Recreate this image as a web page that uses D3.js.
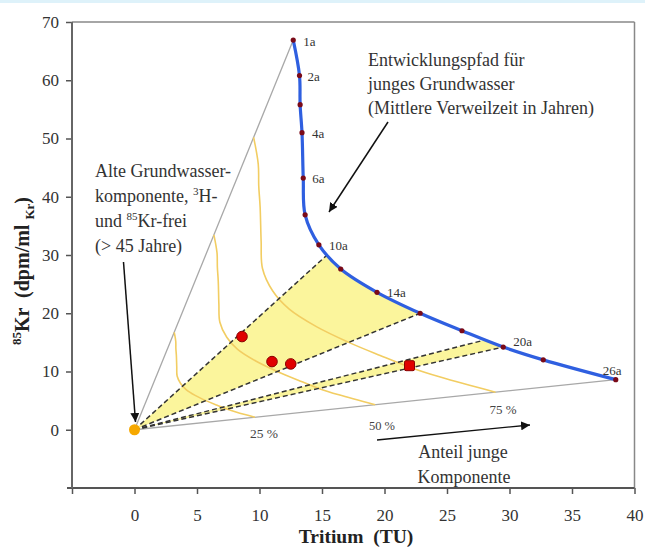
<!DOCTYPE html>
<html><head><meta charset="utf-8">
<script src="https://cdn.jsdelivr.net/npm/d3@7"></script>
<style>
body{margin:0;background:#fff}
svg{display:block}
text{font-family:"Liberation Serif","Times New Roman",serif;white-space:pre}
</style>
</head><body>
<svg id="c" width="645" height="548"></svg>
<script>
// ---- data ----
const xTicks = [-5, 0, 5, 10, 15, 20, 25, 30, 35, 40];
const yTicks = [0, 10, 20, 30, 40, 50, 60, 70];

// evolution path of young groundwater (mean residence time in years)
const pathAges     = [1, 2, 3, 4, 6, 8, 10, 12, 14, 16, 18, 20, 23, 26];
const pathLabels   = ["1a","2a","","4a","6a","","10a","","14a","","","20a","","26a"];
const pathTritium  = [12.7, 13.2, 13.25, 13.4, 13.5, 13.65, 14.75, 16.5, 19.4, 22.85, 26.2, 29.5, 32.7, 38.5];
const pathKrypton  = [66.9, 60.8, 55.8, 51.0, 43.2, 36.9, 31.75, 27.6, 23.6, 20.0, 17.0, 14.2, 12.0, 8.6];

// iso-lines of the young fraction (25 %, 50 %, 75 %)
const iso25Tritium = [3.18, 3.30, 3.31, 3.35, 3.38, 3.41, 3.69, 4.13, 4.85, 5.71, 6.55, 7.38, 8.18, 9.63];
const iso25Krypton = [16.73, 15.20, 13.95, 12.75, 10.80, 9.23, 7.94, 6.90, 5.90, 5.00, 4.25, 3.55, 3.00, 2.15];
const iso50Tritium = [6.35, 6.60, 6.63, 6.70, 6.75, 6.83, 7.38, 8.25, 9.70, 11.43, 13.10, 14.75, 16.35, 19.25];
const iso50Krypton = [33.45, 30.40, 27.90, 25.50, 21.60, 18.45, 15.88, 13.80, 11.80, 10.00, 8.50, 7.10, 6.00, 4.30];
const iso75Tritium = [9.53, 9.90, 9.94, 10.05, 10.13, 10.24, 11.06, 12.38, 14.55, 17.14, 19.65, 22.13, 24.53, 28.88];
const iso75Krypton = [50.18, 45.60, 41.85, 38.25, 32.40, 27.68, 23.81, 20.70, 17.70, 15.00, 12.75, 10.65, 9.00, 6.45];

// old component (origin)
const oldTritium = 0, oldKrypton = 0;

// mixing lines (dashed) end points on the path
const mixEndTritium = [15.35, 22.85, 28.0, 29.5];
const mixEndKrypton = [29.9, 20.0, 15.4, 14.2];

// samples
const sampleTritium = [8.6, 11.0, 12.5, 22.0];
const sampleKrypton = [16.0, 11.7, 11.3, 11.0];
const sampleShape   = ["circle", "circle", "circle", "square"];

// ---- drawing ----
const svg = d3.select("#c");
svg.append("rect").attr("width", 645).attr("height", 548).attr("fill", "#fff");
svg.append("rect").attr("width", 645).attr("height", 3).attr("fill", "#def2fa");

const x = d3.scaleLinear().domain([-5, 40]).range([72, 634.5]);
const y = d3.scaleLinear().domain([-10, 70]).range([488, 22]);

const defs = svg.append("defs");
defs.append("marker").attr("id", "ah").attr("viewBox", "0 0 10 10")
  .attr("refX", 10).attr("refY", 5).attr("markerWidth", 9).attr("markerHeight", 9)
  .attr("markerUnits", "userSpaceOnUse").attr("orient", "auto")
  .append("path").attr("d", "M0,0 L10,5 L0,10 z").attr("fill", "#111");

// frame
svg.append("line").attr("x1", x(-5)).attr("x2", x(40)).attr("y1", y(70)).attr("y2", y(70))
  .attr("stroke", "#888").attr("stroke-width", 1.5);
svg.append("line").attr("x1", x(40)).attr("x2", x(40)).attr("y1", y(70)).attr("y2", y(-10))
  .attr("stroke", "#888").attr("stroke-width", 1.5);

// axes
const fontFam = '"Liberation Serif","Times New Roman",serif';
const gx = svg.append("g").attr("transform", `translate(0,${y(-10)})`)
  .call(d3.axisBottom(x).tickValues(xTicks).tickFormat(d => d < 0 ? "" : d)
    .tickSize(6).tickPadding(15).tickSizeOuter(0));
gx.select(".domain").remove();
gx.selectAll("line").attr("stroke", "#555").attr("stroke-width", 1.5);
gx.selectAll("text").attr("font-size", 17).attr("fill", "#333").attr("font-family", fontFam);

const gy = svg.append("g").attr("transform", `translate(${x(-5)},0)`)
  .call(d3.axisLeft(y).tickValues(yTicks).tickSize(6).tickPadding(7).tickSizeOuter(0));
gy.select(".domain").remove();
gy.selectAll("line").attr("stroke", "#555").attr("stroke-width", 1.5);
gy.selectAll("text").attr("font-size", 17).attr("fill", "#333").attr("font-family", fontFam);

svg.append("line").attr("x1", 67).attr("x2", x(40)).attr("y1", y(-10)).attr("y2", y(-10))
  .attr("stroke", "#555").attr("stroke-width", 2);
svg.append("line").attr("x1", x(-5)).attr("x2", x(-5)).attr("y1", y(70)).attr("y2", y(-10))
  .attr("stroke", "#666").attr("stroke-width", 2);

// gray envelope lines
const first = 0, last = pathTritium.length - 1;
[[pathTritium[first], pathKrypton[first]], [pathTritium[last], pathKrypton[last]]].forEach(p => {
  svg.append("line").attr("x1", x(oldTritium)).attr("y1", y(oldKrypton))
    .attr("x2", x(p[0])).attr("y2", y(p[1])).attr("stroke", "#a8a8a8").attr("stroke-width", 1.3);
});

// yellow fill regions
const curveLine = d3.line().x(d => x(d[0])).y(d => y(d[1])).curve(d3.curveCatmullRom.alpha(0.5));
const pathPts = pathTritium.map((t, i) => [t, pathKrypton[i]]);
const reg1 = [[mixEndTritium[0], mixEndKrypton[0]]].concat(
  pathPts.filter(p => p[0] > mixEndTritium[0] && p[0] <= mixEndTritium[1]));
const reg1Path = curveLine(reg1) + `L${x(oldTritium)},${y(oldKrypton)}Z`;
svg.append("path").attr("d", reg1Path).attr("fill", "#fbf59c");
const reg2 = [[oldTritium, oldKrypton], [mixEndTritium[2], mixEndKrypton[2]], [mixEndTritium[3], mixEndKrypton[3]]];
svg.append("path").attr("d", d3.line().x(d => x(d[0])).y(d => y(d[1]))(reg2) + "Z").attr("fill", "#fbf59c");

// iso lines
[[iso25Tritium, iso25Krypton], [iso50Tritium, iso50Krypton], [iso75Tritium, iso75Krypton]].forEach(([ts, ks]) => {
  svg.append("path").attr("d", curveLine(ts.map((t, i) => [t, ks[i]])))
    .attr("fill", "none").attr("stroke", "#f2cd62").attr("stroke-width", 1.6);
});

// dashed mixing lines
mixEndTritium.forEach((t, i) => {
  svg.append("line").attr("x1", x(oldTritium)).attr("y1", y(oldKrypton))
    .attr("x2", x(t)).attr("y2", y(mixEndKrypton[i]))
    .attr("stroke", "#333").attr("stroke-width", 1.5).attr("stroke-dasharray", "5,3");
});

// blue evolution path
svg.append("path").attr("d", curveLine(pathPts)).attr("fill", "none")
  .attr("stroke", "#2f5fe0").attr("stroke-width", 3.2);
svg.selectAll(".pp").data(pathPts).join("circle").attr("class", "pp")
  .attr("cx", d => x(d[0])).attr("cy", d => y(d[1])).attr("r", 2.6)
  .attr("fill", "#7a0a18");

// path labels
const labelOffset = {"1a": [10, 2], "2a": [8, 1], "4a": [10, 1], "6a": [9, 1], "10a": [10, 1],
  "14a": [10, 1], "20a": [10, -5], "26a": [-13, -9]};
pathLabels.forEach((lab, i) => {
  if (!lab) return;
  const o = labelOffset[lab];
  svg.append("text").attr("x", x(pathTritium[i]) + o[0]).attr("y", y(pathKrypton[i]) + o[1] + 4)
    .attr("font-size", 13).attr("fill", "#333").text(lab);
});

// samples
sampleTritium.forEach((t, i) => {
  if (sampleShape[i] === "square") {
    svg.append("rect").attr("x", x(t) - 5).attr("y", y(sampleKrypton[i]) - 5)
      .attr("width", 10).attr("height", 10).attr("rx", 1.5)
      .attr("fill", "#e00000").attr("stroke", "#8a0000").attr("stroke-width", 1);
  } else {
    svg.append("circle").attr("cx", x(t)).attr("cy", y(sampleKrypton[i])).attr("r", 5.3)
      .attr("fill", "#e00000").attr("stroke", "#8a0000").attr("stroke-width", 1);
  }
});

// old component
svg.append("circle").attr("cx", x(oldTritium)).attr("cy", y(oldKrypton)).attr("r", 5.5)
  .attr("fill", "#f6a800");

// axis titles
svg.append("text").attr("x", 356).attr("y", 543).attr("text-anchor", "middle")
  .attr("font-size", 19.5).attr("font-weight", "bold").attr("fill", "#222").text("Tritium  (TU)");
const yl = svg.append("text").attr("transform", "translate(29,271) rotate(-90)")
  .attr("text-anchor", "middle").attr("font-size", 20).attr("font-weight", "bold").attr("fill", "#222");
yl.append("tspan").attr("font-size", 13).attr("dy", -8).text("85");
yl.append("tspan").attr("dy", 8).text("Kr  (dpm/ml ");
yl.append("tspan").attr("font-size", 13).attr("dy", 5).text("Kr");
yl.append("tspan").attr("dy", -5).text(")");

// annotations
function lines(x0, y0, dy, arr, size) {
  arr.forEach((parts, i) => {
    const t = svg.append("text").attr("x", x0).attr("y", y0 + i * dy)
      .attr("font-size", size).attr("fill", "#333");
    let raised = false;
    parts.forEach(p => {
      if (typeof p === "string") {
        const ts = t.append("tspan").text(p);
        if (raised) { ts.attr("dy", 7); raised = false; }
      } else {
        t.append("tspan").attr("font-size", 11).attr("dy", -7).text(p.sup);
        raised = true;
      }
    });
  });
}
lines(368, 66, 24, [["Entwicklungspfad für"], ["junges Grundwasser"], ["(Mittlere Verweilzeit in Jahren)"]], 18);
lines(95, 177, 25, [
  ["Alte Grundwasser-"],
  ["komponente, ", {sup: "3"}, "H-"],
  ["und ", {sup: "85"}, "Kr-frei"],
  ["(> 45 Jahre)"]], 18);

svg.append("text").attr("x", 463).attr("y", 458).attr("text-anchor", "middle")
  .attr("font-size", 18).attr("fill", "#333").text("Anteil junge");
svg.append("text").attr("x", 464).attr("y", 483).attr("text-anchor", "middle")
  .attr("font-size", 18).attr("fill", "#333").text("Komponente");

svg.append("text").attr("x", 264).attr("y", 438).attr("text-anchor", "middle")
  .attr("font-size", 13.5).attr("fill", "#444").text("25 %");
svg.append("text").attr("x", 382).attr("y", 430).attr("text-anchor", "middle")
  .attr("font-size", 12.5).attr("fill", "#444").text("50 %");
svg.append("text").attr("x", 503).attr("y", 414).attr("text-anchor", "middle")
  .attr("font-size", 13).attr("fill", "#444").text("75 %");

// arrows
function arrow(x1, y1, x2, y2, w) {
  svg.append("line").attr("x1", x1).attr("y1", y1).attr("x2", x2).attr("y2", y2)
    .attr("stroke", "#111").attr("stroke-width", w).attr("marker-end", "url(#ah)");
}
arrow(388, 122, 329, 212, 1.5);
arrow(123.5, 262, 135.5, 422, 1.5);
arrow(377, 440, 530, 425, 1.3);
</script>
</body></html>
